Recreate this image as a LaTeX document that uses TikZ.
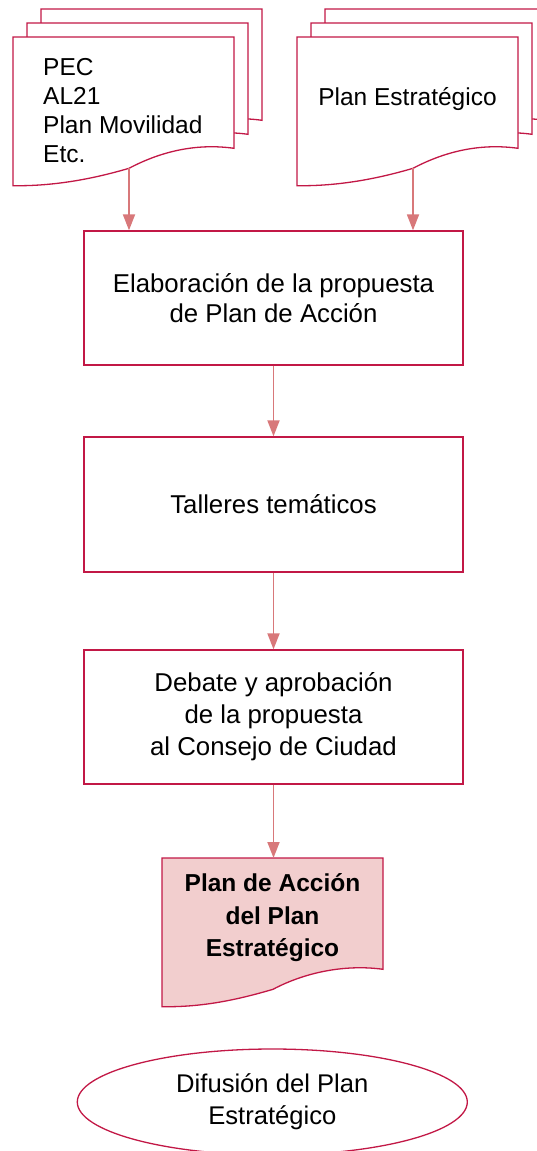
\documentclass[tikz,border=0pt]{standalone}
\usepackage{fontspec}
\setmainfont{Liberation Sans}
\usetikzlibrary{arrows.meta,shapes.geometric}
\definecolor{crim}{RGB}{194,24,70}
\definecolor{arrc}{RGB}{216,120,122}
\definecolor{hfill}{RGB}{242,206,206}
\tikzset{
 boxst/.style={draw=crim, line width=1.3pt, fill=white, inner sep=0pt, minimum width=379pt, align=center},
 sheet/.style={draw=crim, line width=1.3pt, fill=white, line join=miter},
 arr/.style={draw=arrc, line width=1.8pt, -{Triangle[length=16pt,width=12pt,fill=arrc]}},
 txt/.style={inner sep=0pt},
}
\newcommand\docsheet[5]{%
 \begin{scope}[shift={(#1,#2)}]
 \path[#3] (0,0) -- (221,0) -- (221,111.3) .. controls (185.7,106.4) and ({#5+34.4},113.1) .. (#5,131.3) .. controls ({#5-40.9},143.4) and (36.7,149.2) .. (0,148.7) -- cycle;
 \coordinate (#4-mid) at (#5,131.3);
 \coordinate (#4-top) at (110.5,0);
 \end{scope}}
\begin{document}
\begin{tikzpicture}[x=1pt,y=-1pt]
\useasboundingbox (0,0) rectangle (537,1151);
\clip (0,0) rectangle (537,1151);
% left stack
\docsheet{41}{9}{sheet}{L3}{116}
\docsheet{27}{23}{sheet}{L2}{116}
\docsheet{13}{37}{sheet}{docL}{116}
% right stack
\docsheet{325}{9}{sheet}{R3}{116}
\docsheet{311}{23}{sheet}{R2}{116}
\docsheet{297}{37}{sheet}{docR}{116}
\node[txt, anchor=west, align=left, font=\fontsize{24.5}{29}\selectfont] (tL) at (43,110.7) {PEC\\AL21\\Plan Movilidad\\Etc.};
\node[txt, anchor=base, font=\fontsize{24.5}{29}\selectfont] (tR) at (407.5,105) {Plan Estratégico};
% process boxes
\node[boxst, minimum height=134pt, font=\fontsize{25.8}{30}\selectfont] (box1) at (273.5,298) {Elaboración de la propuesta\\de Plan de Acción};
\node[boxst, minimum height=135pt, font=\fontsize{25.8}{30}\selectfont] (box2) at (273.5,504.5) {Talleres temáticos};
\node[boxst, minimum height=134pt, font=\fontsize{25.8}{32}\selectfont] (box3) at (273.5,717) {Debate y aprobación\\de la propuesta\\al Consejo de Ciudad};
% result document
\docsheet{162}{858}{sheet,fill=hfill}{docH}{111}
\node[txt, align=center, font=\bfseries\fontsize{24.5}{32.5}\selectfont] (tH) at (272.5,918) {Plan de Acción\\del Plan\\Estratégico};
% ellipse
\node[ellipse, draw=crim, line width=1.3pt, minimum width=390pt, minimum height=106pt, inner sep=0pt, align=center, font=\fontsize{25.6}{32}\selectfont] (ell) at (272.3,1102) {Difusión del Plan\\Estratégico};
% connectors
\draw[arr] (docL-mid) -- (docL-mid |- box1.north);
\draw[arr] (docR-mid) -- (docR-mid |- box1.north);
\draw[arr] (box1.south) -- (box2.north);
\draw[arr] (box2.south) -- (box3.north);
\draw[arr] (box3.south) -- (box3.south |- docH-top);
\end{tikzpicture}
\end{document}
